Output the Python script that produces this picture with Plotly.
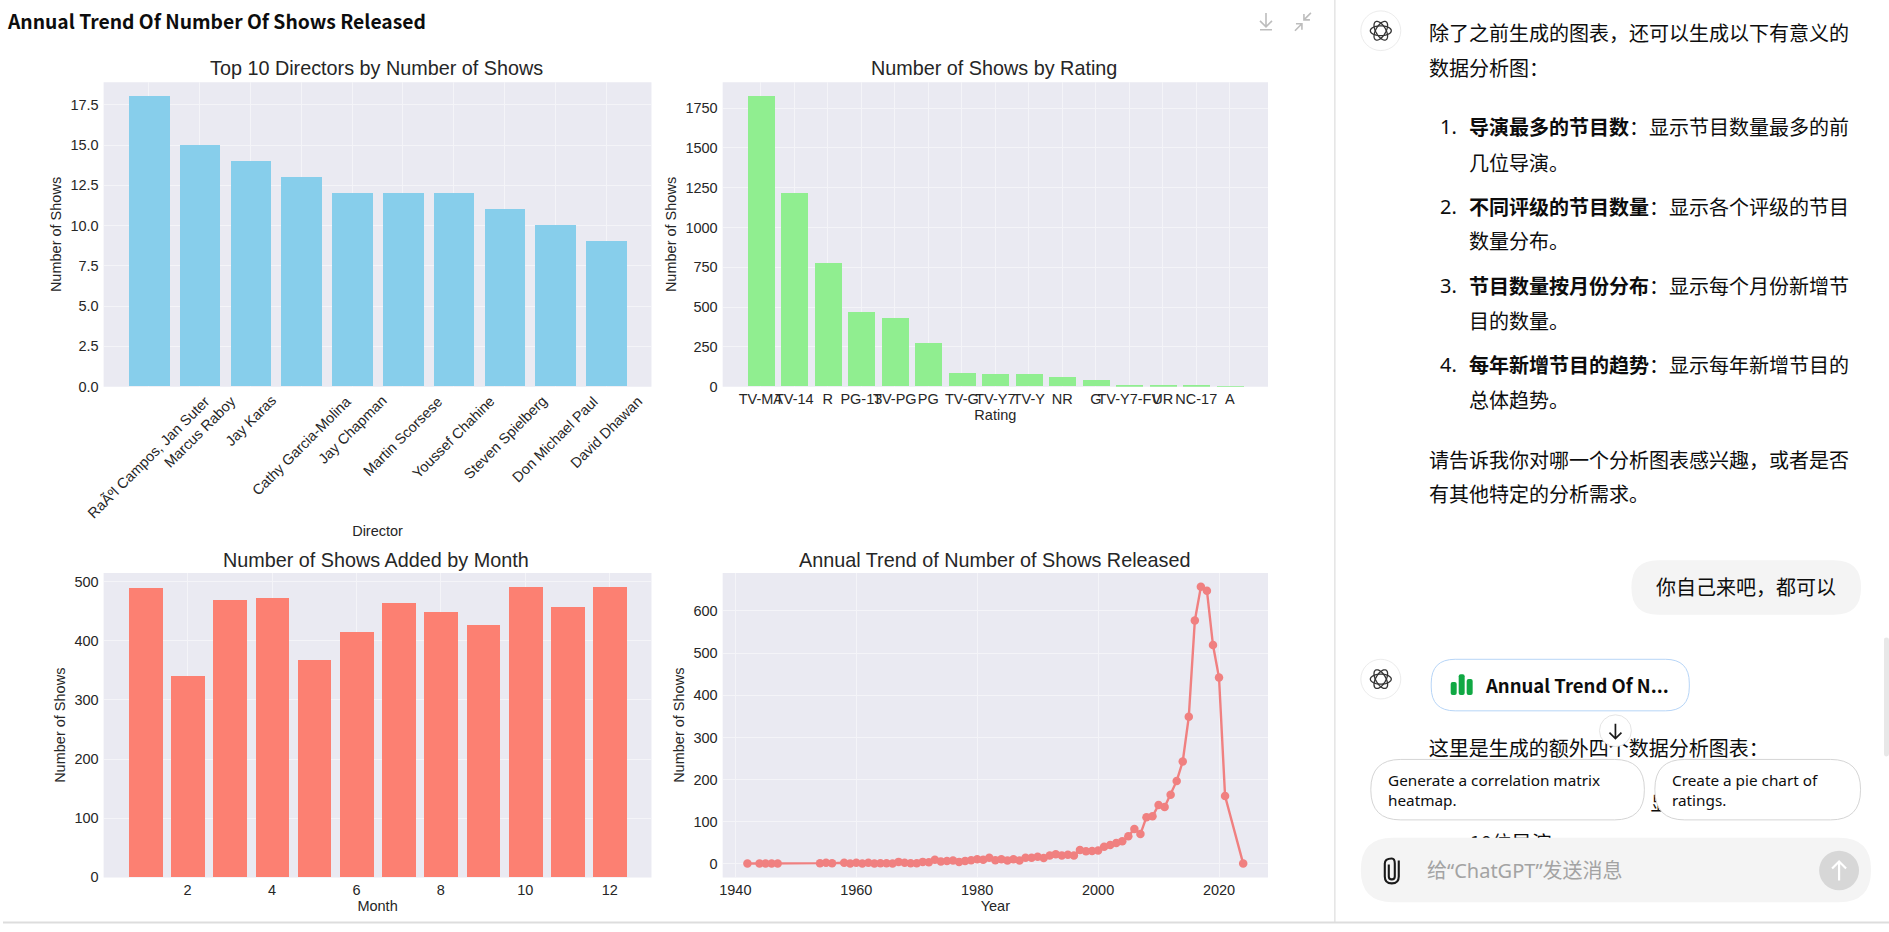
import numpy as np
import plotly.graph_objects as go

W, H = 1889, 932

directors = ["RaÃºl Campos, Jan Suter", "Marcus Raboy", "Jay Karas", "Cathy Garcia-Molina", "Jay Chapman",
             "Martin Scorsese", "Youssef Chahine", "Steven Spielberg", "Don Michael Paul", "David Dhawan"]
director_counts = [18, 15, 14, 13, 12, 12, 12, 11, 10, 9]

ratings = ["TV-MA", "TV-14", "R", "PG-13", "TV-PG", "PG", "TV-G", "TV-Y7", "TV-Y", "NR", "G", "TV-Y7-FV", "UR", "NC-17", "A"]
rating_counts = [1822, 1214, 778, 470, 431, 275, 84, 76, 76, 58, 41, 3, 3, 3, 1]

months = [1, 2, 3, 4, 5, 6, 7, 8, 9, 10, 11, 12]
month_counts = [489, 341, 469, 472, 368, 414, 463, 448, 426, 490, 457, 490]

years = [1942, 1944, 1945, 1946, 1947, 1954, 1955, 1956, 1958, 1959, 1960, 1961, 1962, 1963, 1964, 1965, 1966,
         1967, 1968, 1969, 1970, 1971, 1972, 1973, 1974, 1975, 1976, 1977, 1978, 1979, 1980, 1981, 1982, 1983,
         1984, 1985, 1986, 1987, 1988, 1989, 1990, 1991, 1992, 1993, 1994, 1995, 1996, 1997, 1998, 1999, 2000,
         2001, 2002, 2003, 2004, 2005, 2006, 2007, 2008, 2009, 2010, 2011, 2012, 2013, 2014, 2015, 2016, 2017,
         2018, 2019, 2020, 2021, 2024]
year_counts = [1, 1, 1, 1, 1, 2, 3, 2, 3, 1, 3, 1, 3, 1, 2, 2, 1,
               5, 3, 2, 2, 5, 4, 10, 6, 7, 8, 5, 7, 9, 11, 10, 15, 9,
               11, 8, 11, 8, 15, 15, 17, 14, 20, 23, 20, 22, 20, 33, 30, 31, 32,
               41, 45, 50, 54, 66, 83, 71, 111, 113, 140, 135, 164, 197, 243, 349, 577, 657,
               648, 519, 442, 161, 1]

CJK = "Noto Sans CJK SC"
ARIAL = "Liberation Sans"
INK = "#262626"
DARK = "#0D0D0D"


def px(x):
    return x / W


def py(y):
    return 1 - y / H


def xdom(a, b):
    return [a / W, b / W]


def ydom(top, bottom):
    return [1 - bottom / H, 1 - top / H]


fig = go.Figure()
fig.add_trace(go.Bar(x=directors, y=director_counts, width=0.8, marker=dict(color="#87CEEB", line_width=0), xaxis="x", yaxis="y", hoverinfo="skip"))
fig.add_trace(go.Bar(x=ratings, y=rating_counts, width=0.8, marker=dict(color="#90EE90", line_width=0), xaxis="x2", yaxis="y2", hoverinfo="skip"))
fig.add_trace(go.Bar(x=months, y=month_counts, width=0.8, marker=dict(color="#FC8072", line_width=0), xaxis="x3", yaxis="y3", hoverinfo="skip"))
fig.add_trace(go.Scatter(x=years, y=year_counts, mode="lines+markers", line=dict(color="#F08080", width=2.4),
                         marker=dict(color="#F08080", size=8.5), xaxis="x4", yaxis="y4", hoverinfo="skip"))

# page text that sits under the chat widgets
under_text = ["这里是生成的额外四个数据分析图表：", "：显", "10位导演"]
under_x = [1428, 1630, 1469]
under_y = [757, 813, 853]
fig.add_trace(go.Scatter(x=under_x, y=under_y, text=under_text, mode="text", textposition="middle right",
                         textfont=dict(family=CJK, size=20, color=DARK), xaxis="x5", yaxis="y5", hoverinfo="skip"))


def axis(dom, **kw):
    d = dict(domain=dom, showgrid=True, gridcolor="#F4F4F8", gridwidth=1, zeroline=False, showline=False,
             ticks="", ticklabelstandoff=4, tickfont=dict(family=ARIAL, size=14.5, color=INK), fixedrange=True)
    d.update(kw)
    return d


def xaxis_(dom, **kw):
    return axis(dom, ticklabelstandoff=2, **kw)


def atitle(text, standoff):
    return dict(text=text, font=dict(family=ARIAL, size=14.5, color=INK), standoff=standoff)


P1 = xdom(100.8, 649.5)
P2 = xdom(720.8, 1267)
R1 = ydom(83, 390)
R2 = ydom(578, 885)

layout = dict(
    width=W, height=H, margin=dict(l=0, r=0, t=0, b=0), paper_bgcolor="white", plot_bgcolor="rgba(0,0,0,0)",
    showlegend=False, autosize=False, bargap=0,
    xaxis=xaxis_(P1, type="category", categoryorder="array", categoryarray=directors, range=[-0.89, 9.89], anchor="y",
                 tickvals=directors, showticklabels=False, title=atitle("Director", 139)),
    yaxis=axis(R1, range=[0, 18.9], tickvals=[0, 2.5, 5, 7.5, 10, 12.5, 15, 17.5], tickformat=".1f", anchor="x",
               title=atitle("Number of Shows", 5)),
    xaxis2=xaxis_(P2, type="category", categoryorder="array", categoryarray=ratings, range=[-1.14, 15.14], anchor="y2",
                  tickvals=ratings, ticktext=ratings, tickangle=0, title=atitle("Rating", 3)),
    yaxis2=axis(R1, range=[0, 1913], tickvals=[0, 250, 500, 750, 1000, 1250, 1500, 1750], anchor="x2",
                title=atitle("Number of Shows", 5)),
    xaxis3=xaxis_(P1, range=[0.01, 12.99], tickvals=[2, 4, 6, 8, 10, 12], anchor="y3", tickangle=0, title=atitle("Month", 3)),
    yaxis3=axis(R2, range=[0, 514.5], tickvals=[0, 100, 200, 300, 400, 500], anchor="x3", title=atitle("Number of Shows", 5)),
    xaxis4=xaxis_(P2, range=[1937.9, 2028.1], tickvals=[1940, 1960, 1980, 2000, 2020], anchor="y4", tickangle=0, title=atitle("Year", 3)),
    yaxis4=axis(R2, range=[-31.8, 689.8], tickvals=[0, 100, 200, 300, 400, 500, 600], anchor="x4", title=atitle("Number of Shows", 5)),
    xaxis5=dict(domain=[0, 1], range=[0, W], visible=False, anchor="y5", fixedrange=True),
    yaxis5=dict(domain=[0, 1], range=[H, 0], visible=False, anchor="x5", fixedrange=True),
)

shapes = []
for xa, ya in [("x", "y"), ("x2", "y2"), ("x3", "y3"), ("x4", "y4")]:
    shapes.append(dict(type="rect", xref=f"{xa} domain", yref=f"{ya} domain", x0=0, x1=1, y0=0, y1=1,
                       fillcolor="#EAEAF2", line_width=0, layer="below"))


def P(x, y):
    return f"{px(x):.5f},{py(y):.5f}"


def ui(**kw):
    d = dict(xref="paper", yref="paper", layer="above")
    d.update(kw)
    shapes.append(d)


def path(d, color, width=1.5, fill=None):
    ui(type="path", path=d, line=dict(color=color, width=width), fillcolor=fill or "rgba(0,0,0,0)")


def rrect(x0, y0, x1, y1, r, fill="white", line="rgba(0,0,0,0)", lw=0):
    d = (f"M{P(x0 + r, y0)} L{P(x1 - r, y0)} Q{P(x1, y0)} {P(x1, y0 + r)} L{P(x1, y1 - r)} Q{P(x1, y1)} {P(x1 - r, y1)} "
         f"L{P(x0 + r, y1)} Q{P(x0, y1)} {P(x0, y1 - r)} L{P(x0, y0 + r)} Q{P(x0, y0)} {P(x0 + r, y0)} Z")
    ui(type="path", path=d, fillcolor=fill, line=dict(color=line, width=lw))


def circle(cx, cy, r, fill="white", line="rgba(0,0,0,0)", lw=0):
    ui(type="circle", x0=px(cx - r), x1=px(cx + r), y0=py(cy + r), y1=py(cy - r), fillcolor=fill, line=dict(color=line, width=lw))


def logo(cx, cy):
    circle(cx, cy, 20, "white", "#ECECEC", 1)
    t = np.linspace(0, 2 * np.pi, 41)
    for rot in (0, np.pi / 3, 2 * np.pi / 3):
        ex, ey = 10.5 * np.cos(t), 5.0 * np.sin(t)
        xs = cx + ex * np.cos(rot) - ey * np.sin(rot)
        ys = cy + ex * np.sin(rot) + ey * np.cos(rot)
        path("M" + " L".join(P(a, b) for a, b in zip(xs, ys)) + " Z", "#333333", 1.3)


# page frame
ui(type="line", x0=px(1334), x1=px(1334), y0=py(0), y1=py(930), line=dict(color="#DDDDDD", width=1.2))
ui(type="line", x0=0, x1=1, y0=py(930.5), y1=py(930.5), line=dict(color="#DDDDDD", width=2))
rrect(1884, 643, 1889, 763, 2.5, "#E8E8E8")

# download and collapse icons
path(f"M{P(1265, 13)} L{P(1265, 27)} M{P(1259, 21)} L{P(1265, 27)} L{P(1271, 21)} M{P(1259, 30)} L{P(1271, 30)}", "#BDBDBD", 1.6)
path(f"M{P(1310, 13)} L{P(1303, 20)} M{P(1303, 14)} L{P(1303, 20)} L{P(1309, 20)} "
     f"M{P(1294, 31)} L{P(1301, 24)} M{P(1295, 24)} L{P(1301, 24)} L{P(1301, 30)}", "#BDBDBD", 1.6)

logo(1380, 31)
logo(1380, 685)

# chat widgets
rrect(1631, 565, 1861, 620, 27, "#F4F4F4")
rrect(1430.5, 665, 1689, 717, 24, "white", "#B7D5F7", 1)
rrect(1450, 688, 1456, 701, 2, "#10A843")
rrect(1458, 680, 1464, 701, 2, "#10A843")
rrect(1466, 685, 1472, 701, 2, "#10A843")
circle(1615, 737, 16, "white", "#E5E5E5", 1)
path(f"M{P(1615, 730)} L{P(1615, 745)} M{P(1609, 739)} L{P(1615, 745)} L{P(1621, 739)}", "#1A1A1A", 1.7)
rrect(1370, 766, 1644, 827, 30, "white", "#D5D5D5", 1)
rrect(1654.5, 766, 1860.5, 827, 30, "white", "#D5D5D5", 1)
rrect(1360, 845, 1871, 910, 32, "#F4F4F4")
circle(1839, 878, 20, "#D7D7D7")
path(f"M{P(1839, 888)} L{P(1839, 869)} M{P(1832, 876)} L{P(1839, 869)} L{P(1846, 876)}", "white", 2.2)
path(f"M{P(1398, 868)} L{P(1398, 884)} Q{P(1398, 891)} {P(1391, 891)} Q{P(1384, 891)} {P(1384, 884)} L{P(1384, 871)} "
     f"Q{P(1384, 866)} {P(1391, 866)} Q{P(1394, 866)} {P(1394, 871)} L{P(1394, 884)} Q{P(1394, 887)} {P(1391, 887)} "
     f"Q{P(1388, 887)} {P(1388, 884)} L{P(1388, 872)}", "#1A1A1A", 2.1)

layout["shapes"] = shapes

ann = []


def text(x, y, s, size=20, color=DARK, family=CJK, anchor="left"):
    ann.append(dict(xref="paper", yref="paper", x=px(x), y=py(y), text=s, showarrow=False, xanchor=anchor, yanchor="middle",
                    align=anchor, font=dict(family=family, size=size, color=color), borderpad=0, borderwidth=0))


text(4, 21, "<b>Annual Trend Of Number Of Shows Released</b>", size=19.3)

for x, y, s in [((102 + 650) / 2 - 2, 68.5, "Top 10 Directors by Number of Shows"),
                ((722 + 1267.5) / 2 - 2, 68.5, "Number of Shows by Rating"),
                ((102 + 650) / 2 - 2, 564.5, "Number of Shows Added by Month"),
                ((722 + 1267.5) / 2 - 2, 564.5, "Annual Trend of Number of Shows Released")]:
    text(x, y, s, size=19.8, color=INK, family=ARIAL, anchor="center")

for name in directors:
    ann.append(dict(xref="x", yref="paper", x=name, y=py(395), text=name, textangle=-45, showarrow=False, xanchor="center",
                    yanchor="top", font=dict(family=ARIAL, size=14.5, color=INK), borderpad=0))

text(1428, 33, "除了之前生成的图表，还可以生成以下有意义的")
text(1428, 68, "数据分析图：")
text(1439.5, 128, "1.", family="Noto Sans")
text(1468, 128, "<b>导演最多的节目数</b>：显示节目数量最多的前")
text(1468, 163.5, "几位导演。")
text(1439.5, 208, "2.", family="Noto Sans")
text(1468, 208, "<b>不同评级的节目数量</b>：显示各个评级的节目")
text(1468, 243, "数量分布。")
text(1439.5, 288, "3.", family="Noto Sans")
text(1468, 288, "<b>节目数量按月份分布</b>：显示每个月份新增节")
text(1468, 323, "目的数量。")
text(1439.5, 368, "4.", family="Noto Sans")
text(1468, 368, "<b>每年新增节目的趋势</b>：显示每年新增节目的")
text(1468, 403, "总体趋势。")
text(1428, 463, "请告诉我你对哪一个分析图表感兴趣，或者是否")
text(1428, 498, "有其他特定的分析需求。")
text(1656, 592, "你自己来吧，都可以")
text(1484, 690.5, "<b>Annual Trend Of N...</b>", size=18.5)
text(1387, 787, "Generate a correlation matrix", size=15.3, family="Noto Sans")
text(1387, 807, "heatmap.", size=15.3, family="Noto Sans")
text(1672, 787, "Create a pie chart of", size=15.3, family="Noto Sans")
text(1672, 807, "ratings.", size=15.3, family="Noto Sans")
text(1426, 878, "给“ChatGPT”发送消息", color="#A3A3A3", family="Noto Sans, Noto Sans CJK SC")

layout["annotations"] = ann
fig.update_layout(**layout)

fig.write_html("out.html", config={"displayModeBar": False},
               post_script="document.body.style.margin='0';document.documentElement.style.overflow='hidden';")
